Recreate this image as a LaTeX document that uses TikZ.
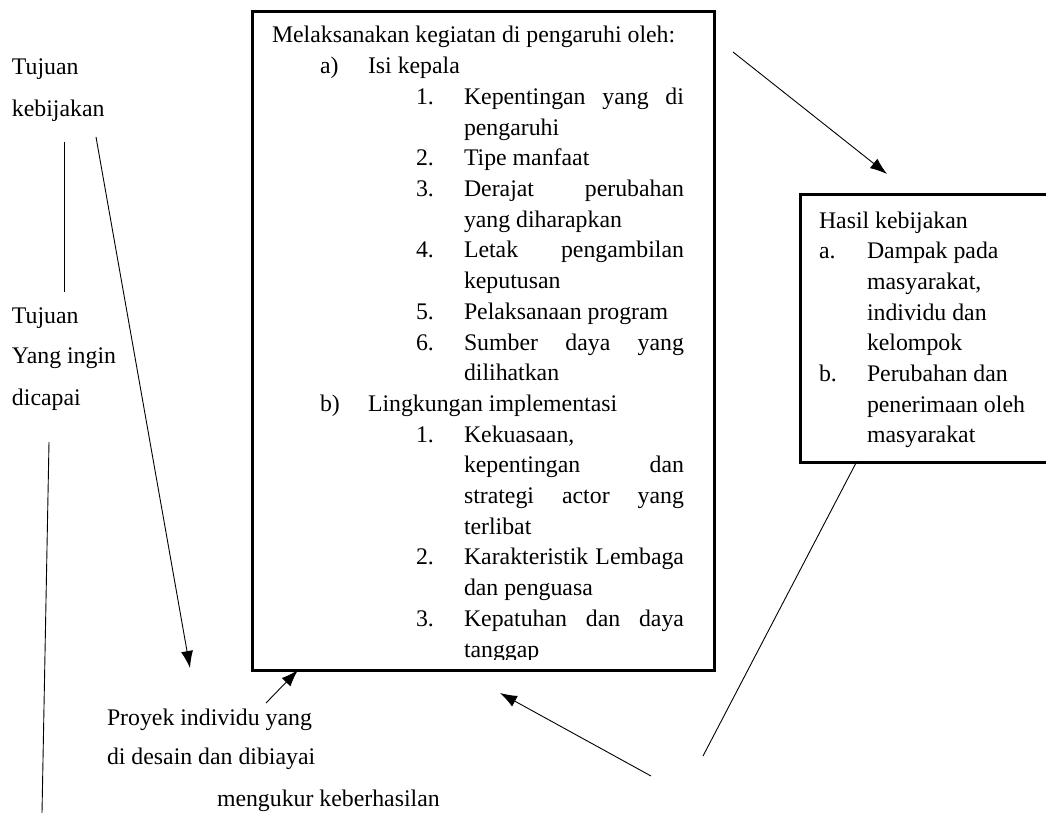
\documentclass[tikz,border=0pt]{standalone}
\usepackage{fontspec}
\setmainfont{Liberation Serif}
\usetikzlibrary{arrows.meta}
\begin{document}
\begin{tikzpicture}[x=1pt,y=-1pt,
  txt/.style={anchor=base west, inner sep=0pt, outer sep=0pt, font=\fontsize{23.8}{28}\selectfont},
  frame/.style={draw, line width=3pt, inner sep=0pt, anchor=north west},
  link/.style={line width=0.9pt},
  arr/.style={line width=0.9pt, -{Latex[length=17pt,width=12pt]}}]
\useasboundingbox (0,0) rectangle (1046,813);
\clip (0,0) rectangle (1046,813);
\fill[white] (0,0) rectangle (1046,813);
% boxes
\node[frame, minimum width=462pt, minimum height=659pt] (main) at (251,10) {};
\node[frame, minimum width=300pt, minimum height=268pt] (hasil) at (799,193) {};
% main box text
\begin{scope}
\clip (251,10) rectangle (713,659);
\foreach \k/\x/\t [count=\n] in {
 0/272/{Melaksanakan kegiatan di pengaruhi oleh:},
 1/320/{a)},
 1/368/{Isi kepala},
 2/416/{1.},
 2/464/{\makebox[220pt]{Kepentingan\hfill yang\hfill di}},
 3/464/{pengaruhi},
 4/416/{2.},
 4/464/{Tipe manfaat},
 5/416/{3.},
 5/464/{\makebox[220pt]{Derajat\hfill perubahan}},
 6/464/{yang diharapkan},
 7/416/{4.},
 7/464/{\makebox[220pt]{Letak\hfill pengambilan}},
 8/464/{keputusan},
 9/416/{5.},
 9/464/{Pelaksanaan program},
 10/416/{6.},
 10/464/{\makebox[220pt]{Sumber\hfill daya\hfill yang}},
 11/464/{dilihatkan},
 12/320/{b)},
 12/368/{Lingkungan implementasi},
 13/416/{1.},
 13/464/{Kekuasaan,},
 14/464/{\makebox[220pt]{kepentingan\hfill dan}},
 15/464/{\makebox[220pt]{strategi\hfill actor\hfill yang}},
 16/464/{terlibat},
 17/416/{2.},
 17/464/{\makebox[220pt]{Karakteristik\hfill Lembaga}},
 18/464/{dan penguasa},
 19/416/{3.},
 19/464/{\makebox[220pt]{Kepatuhan\hfill dan\hfill daya}},
 20/464/{tanggap}}
 \node[txt] (mt\n) at ({\x},{43+30.7*\k}) {\t};
\end{scope}
% hasil box text
\foreach \k/\x/\t [count=\n] in {
 0/819/{Hasil kebijakan},
 1/819/{a.},
 1/867/{Dampak pada},
 2/867/{masyarakat,},
 3/867/{individu dan},
 4/867/{kelompok},
 5/819/{b.},
 5/867/{Perubahan dan},
 6/867/{penerimaan oleh},
 7/867/{masyarakat}}
 \node[txt] (ht\n) at ({\x},{228+30.7*\k}) {\t};
% left labels
\node[txt] (tuj1) at (12,75) {Tujuan};
\node[txt] (keb) at (12,117) {kebijakan};
\node[txt] (tuj2) at (12,323) {Tujuan};
\node[txt] (yang) at (12,363) {Yang ingin};
\node[txt] (dic) at (12,405) {dicapai};
\node[txt] (proy1) at (107,725) {Proyek individu yang};
\node[txt] (proy2) at (107,764) {di desain dan dibiayai};
\node[txt] (ukur) at (217,806) {mengukur keberhasilan};
% connector end points
\coordinate (v1a) at (64,142);
\coordinate (v1b) at (64,292);
\coordinate (v2a) at (49,442);
\coordinate (v2b) at (42,813);
\coordinate (l1a) at (96,137);
\coordinate (l1b) at (190,668);
\coordinate (tra) at (733,52);
\coordinate (trb) at (887,174);
\coordinate (pra) at (266,703);
\coordinate (prb) at (298,670);
\coordinate (bra) at (651,776);
\coordinate (brb) at (500,693);
\coordinate (hsa) at (857,461);
\coordinate (hsb) at (703,756);
% connectors
\draw[link] (v1a) -- (v1b);
\draw[link] (v2a) -- (v2b);
\draw[arr] (l1a) -- (l1b);
\draw[arr] (tra) -- (trb);
\draw[arr] (pra) -- (prb);
\draw[arr] (bra) -- (brb);
\draw[link] (hsa) -- (hsb);
\end{tikzpicture}
\end{document}
